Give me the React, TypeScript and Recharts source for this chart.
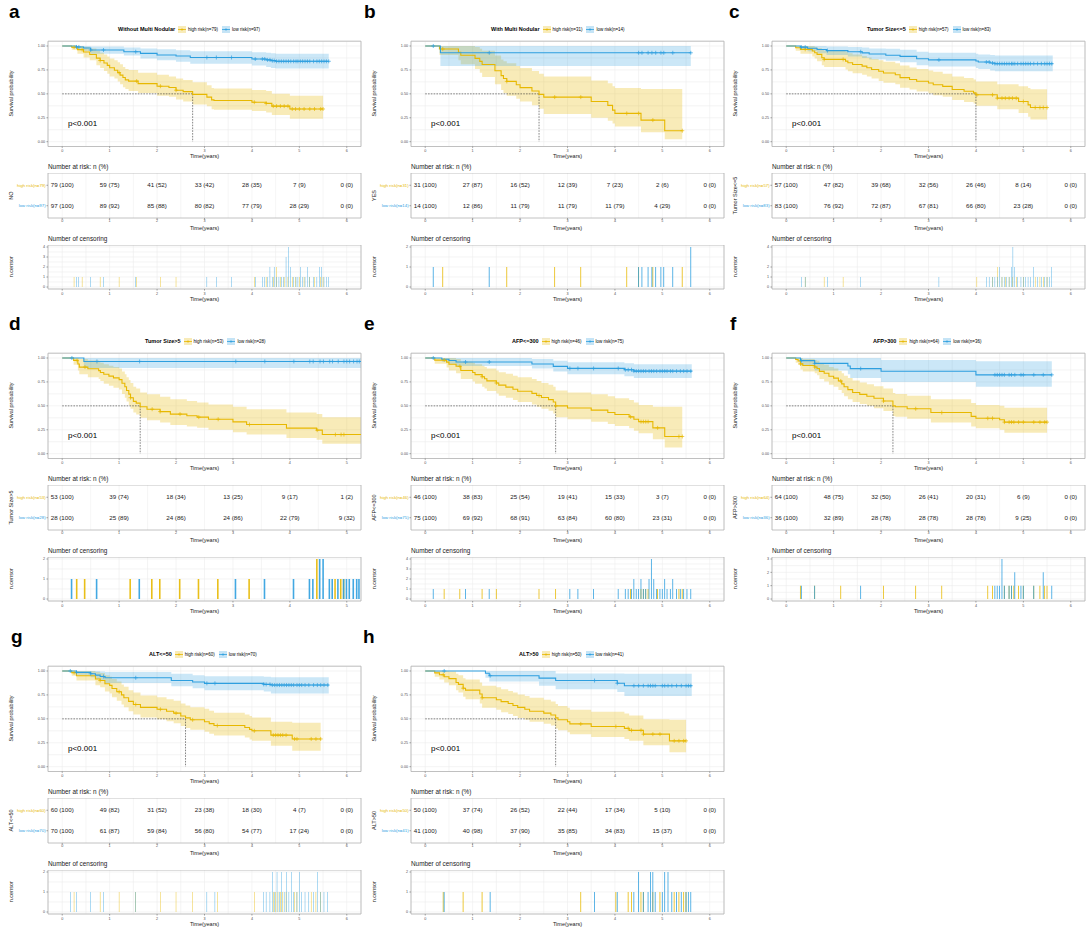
import React from "react";
import {
  Area,
  Bar,
  CartesianGrid,
  ComposedChart,
  Line,
  ReferenceArea,
  ReferenceLine,
  Scatter,
  XAxis,
  YAxis,
} from "recharts";

const HIGH = "#E7B800";
const LOW = "#2E9FDF";
const FONT = '"Liberation Sans", Arial, sans-serif';

// [time, survival, lower CI, upper CI]
type Pt = [number, number, number, number];
// [time, number censored]
type Cens = [number, number];

const timeMajors6 = [0, 1, 2, 3, 4, 5, 6];
const timeMajors5 = [0, 1, 2, 3, 4, 5];
const survMajors = [0, 0.25, 0.5, 0.75, 1];
const medians = [2.75, 2.4, 4.0, 1.37, 2.75, 2.25, 2.6, 2.75];

// ---- a: Without Multi Nodular
const aHigh: Pt[] = [
  [0, 1, 1, 1], [0.2, 0.987, 0.96, 1], [0.32, 0.962, 0.92, 1], [0.45, 0.937, 0.88, 0.99],
  [0.58, 0.911, 0.85, 0.975], [0.72, 0.873, 0.8, 0.95], [0.8, 0.848, 0.77, 0.93], [0.88, 0.823, 0.74, 0.91],
  [0.95, 0.797, 0.71, 0.89], [1.0, 0.772, 0.68, 0.87], [1.1, 0.747, 0.66, 0.85], [1.17, 0.722, 0.63, 0.83],
  [1.22, 0.696, 0.6, 0.81], [1.28, 0.671, 0.57, 0.78], [1.33, 0.646, 0.55, 0.76], [1.4, 0.633, 0.53, 0.75],
  [1.6, 0.607, 0.51, 0.72], [2.0, 0.58, 0.48, 0.7], [2.25, 0.566, 0.47, 0.68], [2.4, 0.538, 0.44, 0.66],
  [2.55, 0.523, 0.42, 0.645], [2.75, 0.494, 0.39, 0.62], [3.05, 0.466, 0.37, 0.59], [3.15, 0.437, 0.34, 0.56],
  [3.2, 0.43, 0.335, 0.555], [4.0, 0.413, 0.32, 0.54], [4.3, 0.4, 0.305, 0.53], [4.42, 0.372, 0.28, 0.5],
  [4.8, 0.342, 0.24, 0.48], [5.5, 0.342, 0.24, 0.48],
];
const aLow: Pt[] = [
  [0, 1, 1, 1], [0.3, 0.99, 0.97, 1], [0.45, 0.979, 0.95, 1], [0.6, 0.958, 0.92, 0.995],
  [1.3, 0.94, 0.9, 0.985], [1.65, 0.923, 0.87, 0.975], [2.0, 0.906, 0.85, 0.965], [2.4, 0.895, 0.835, 0.955],
  [2.7, 0.88, 0.815, 0.945], [4.0, 0.864, 0.795, 0.935], [4.3, 0.855, 0.78, 0.93], [4.4, 0.847, 0.77, 0.925],
  [4.5, 0.84, 0.765, 0.92], [5.62, 0.84, 0.765, 0.92],
];
const aHighCens: Cens[] = [
  [0.25, 1], [0.42, 1], [0.8, 1], [1.2, 1], [1.57, 1], [2.07, 1], [2.4, 1], [4.05, 1], [4.3, 1], [4.45, 1],
  [4.52, 2], [4.6, 1], [4.68, 1], [4.76, 1], [4.85, 1], [4.92, 1], [5.0, 1], [5.1, 1], [5.22, 1], [5.32, 1],
  [5.45, 1], [5.5, 1],
];
const aLowCens: Cens[] = [
  [0.3, 1], [0.35, 1], [0.6, 1], [0.87, 1], [1.55, 1], [3.05, 1], [3.25, 1], [3.57, 1], [4.07, 1], [4.22, 1],
  [4.27, 1], [4.33, 1], [4.38, 2], [4.43, 1], [4.47, 2], [4.52, 1], [4.57, 1], [4.62, 1], [4.67, 1], [4.72, 3],
  [4.77, 4], [4.82, 2], [4.88, 1], [4.93, 1], [4.97, 1], [5.02, 2], [5.07, 1], [5.12, 1], [5.17, 2], [5.22, 1],
  [5.3, 1], [5.37, 1], [5.42, 2], [5.47, 2], [5.52, 1], [5.57, 1], [5.62, 1],
];
const aRiskHigh = [[79, 100], [59, 75], [41, 52], [33, 42], [28, 35], [7, 9], [0, 0]];
const aRiskLow = [[97, 100], [89, 92], [85, 88], [80, 82], [77, 79], [28, 29], [0, 0]];

// ---- b: With Multi Nodular
const bHigh: Pt[] = [
  [0, 1, 1, 1], [0.3, 0.968, 0.905, 1], [0.7, 0.935, 0.85, 1], [0.75, 0.903, 0.81, 1],
  [1.05, 0.871, 0.76, 0.99], [1.15, 0.839, 0.72, 0.97], [1.2, 0.806, 0.675, 0.95], [1.47, 0.742, 0.6, 0.9],
  [1.6, 0.69, 0.54, 0.86], [1.65, 0.66, 0.51, 0.84], [1.72, 0.63, 0.48, 0.82], [1.92, 0.595, 0.45, 0.79],
  [2.0, 0.565, 0.42, 0.77], [2.25, 0.53, 0.38, 0.74], [2.4, 0.495, 0.345, 0.71], [2.5, 0.466, 0.29, 0.68],
  [3.5, 0.42, 0.25, 0.64], [3.85, 0.38, 0.22, 0.61], [3.95, 0.33, 0.19, 0.58], [4.0, 0.296, 0.16, 0.56],
  [4.55, 0.226, 0.1, 0.55], [5.05, 0.115, 0.025, 0.55], [5.42, 0.115, 0.025, 0.55],
];
const bLow: Pt[] = [[0, 1, 1, 1], [0.32, 0.929, 0.79, 1], [5.6, 0.929, 0.79, 1]];
const bHighCens: Cens[] = [[0.37, 1], [1.72, 1], [2.73, 1], [3.28, 1], [4.25, 1], [4.5, 1], [4.8, 1], [5.42, 1]];
const bLowCens: Cens[] = [
  [0.17, 1], [1.35, 1], [4.5, 1], [4.57, 1], [4.7, 1], [4.78, 1], [4.86, 1], [4.97, 1], [5.03, 1], [5.22, 1],
  [5.6, 2],
];
const bRiskHigh = [[31, 100], [27, 87], [16, 52], [12, 39], [7, 23], [2, 6], [0, 0]];
const bRiskLow = [[14, 100], [12, 86], [11, 79], [11, 79], [11, 79], [4, 29], [0, 0]];

// ---- c: Tumor Size<=5
const cHigh: Pt[] = [
  [0, 1, 1, 1], [0.2, 0.982, 0.95, 1], [0.3, 0.965, 0.92, 1], [0.55, 0.947, 0.89, 1], [0.6, 0.93, 0.87, 0.99],
  [0.65, 0.912, 0.84, 0.98], [0.75, 0.877, 0.8, 0.96], [0.8, 0.86, 0.78, 0.95], [1.25, 0.842, 0.755, 0.94],
  [1.3, 0.825, 0.735, 0.925], [1.4, 0.807, 0.715, 0.91], [1.6, 0.79, 0.7, 0.895], [1.7, 0.772, 0.68, 0.88],
  [1.8, 0.754, 0.66, 0.865], [1.95, 0.736, 0.635, 0.85], [2.05, 0.718, 0.615, 0.835], [2.3, 0.7, 0.6, 0.82],
  [2.4, 0.67, 0.565, 0.795], [2.6, 0.65, 0.545, 0.775], [2.75, 0.632, 0.525, 0.76], [3.0, 0.613, 0.505, 0.745],
  [3.1, 0.595, 0.485, 0.73], [3.3, 0.578, 0.47, 0.71], [3.5, 0.545, 0.435, 0.68], [3.75, 0.527, 0.415, 0.665],
  [3.95, 0.51, 0.4, 0.65], [4.0, 0.49, 0.375, 0.63], [4.45, 0.455, 0.34, 0.6], [4.9, 0.42, 0.3, 0.58],
  [5.1, 0.385, 0.26, 0.56], [5.15, 0.357, 0.233, 0.547], [5.5, 0.357, 0.233, 0.547],
];
const cLow: Pt[] = [
  [0, 1, 1, 1], [0.3, 0.988, 0.965, 1], [0.45, 0.976, 0.945, 1], [0.65, 0.964, 0.925, 1],
  [0.85, 0.952, 0.905, 0.995], [1.3, 0.94, 0.89, 0.99], [1.6, 0.928, 0.875, 0.985], [1.75, 0.916, 0.86, 0.975],
  [2.1, 0.904, 0.845, 0.97], [2.4, 0.892, 0.83, 0.96], [2.75, 0.867, 0.8, 0.94], [3.0, 0.855, 0.785, 0.93],
  [4.0, 0.843, 0.77, 0.92], [4.05, 0.832, 0.76, 0.91], [4.3, 0.822, 0.745, 0.905], [4.4, 0.815, 0.735, 0.9],
  [5.62, 0.815, 0.735, 0.9],
];
const cHighCens: Cens[] = [
  [0.4, 1], [0.8, 1], [1.2, 1], [4.02, 1], [4.35, 1], [4.45, 2], [4.55, 1], [4.62, 1], [4.7, 1], [4.77, 1],
  [4.85, 1], [5.0, 1], [5.25, 1], [5.35, 1], [5.42, 1], [5.5, 1],
];
const cLowCens: Cens[] = [
  [0.32, 1], [0.4, 1], [0.87, 1], [1.57, 1], [3.22, 1], [4.22, 1], [4.28, 1], [4.35, 1], [4.4, 1], [4.45, 1],
  [4.5, 2], [4.55, 1], [4.6, 1], [4.65, 1], [4.7, 1], [4.75, 2], [4.78, 4], [4.82, 2], [4.88, 1], [4.95, 1],
  [5.0, 1], [5.05, 1], [5.1, 1], [5.15, 1], [5.22, 2], [5.3, 1], [5.38, 1], [5.45, 1], [5.5, 1], [5.55, 1],
  [5.6, 2],
];
const cRiskHigh = [[57, 100], [47, 82], [39, 68], [32, 56], [26, 46], [8, 14], [0, 0]];
const cRiskLow = [[83, 100], [76, 92], [72, 87], [67, 81], [66, 80], [23, 28], [0, 0]];

// ---- d: Tumor Size>5
const dHigh: Pt[] = [
  [0, 1, 1, 1], [0.2, 0.975, 0.93, 1], [0.275, 0.937, 0.87, 1], [0.3, 0.905, 0.83, 0.99],
  [0.45, 0.887, 0.8, 0.975], [0.64, 0.868, 0.78, 0.96], [0.67, 0.849, 0.76, 0.95], [0.73, 0.83, 0.73, 0.935],
  [0.82, 0.811, 0.71, 0.92], [0.9, 0.792, 0.69, 0.905], [1.0, 0.774, 0.67, 0.89], [1.05, 0.736, 0.625, 0.86],
  [1.1, 0.7, 0.585, 0.83], [1.13, 0.66, 0.545, 0.8], [1.17, 0.623, 0.505, 0.77], [1.2, 0.585, 0.47, 0.74],
  [1.25, 0.547, 0.43, 0.7], [1.3, 0.528, 0.41, 0.68], [1.37, 0.49, 0.375, 0.64], [1.49, 0.465, 0.35, 0.62],
  [1.72, 0.44, 0.325, 0.595], [1.9, 0.414, 0.3, 0.57], [2.19, 0.396, 0.285, 0.55], [2.37, 0.382, 0.27, 0.535],
  [2.57, 0.36, 0.25, 0.515], [3.0, 0.333, 0.225, 0.49], [3.24, 0.305, 0.2, 0.465], [3.94, 0.267, 0.165, 0.43],
  [4.47, 0.246, 0.145, 0.415], [4.57, 0.2, 0.105, 0.38], [5.25, 0.2, 0.105, 0.38],
];
const dLow: Pt[] = [[0, 1, 1, 1], [0.38, 0.964, 0.895, 1], [5.25, 0.964, 0.895, 1]];
const dHighCens: Cens[] = [
  [0.26, 1], [0.4, 1], [1.2, 1], [1.58, 1], [1.72, 1], [2.07, 1], [2.4, 1], [2.74, 1], [3.29, 1], [4.48, 2],
  [4.8, 1], [4.9, 1], [4.95, 1],
];
const dLowCens: Cens[] = [
  [0.17, 1], [0.61, 1], [1.36, 1], [3.05, 1], [3.56, 1], [4.07, 1], [4.35, 1], [4.41, 1], [4.53, 2], [4.59, 2],
  [4.7, 1], [4.75, 1], [4.85, 1], [4.95, 1], [5.0, 1], [5.05, 1], [5.12, 1], [5.18, 1], [5.22, 1],
];
const dRiskHigh = [[53, 100], [39, 74], [18, 34], [13, 25], [9, 17], [1, 2]];
const dRiskLow = [[28, 100], [25, 89], [24, 86], [24, 86], [22, 79], [9, 32]];

// ---- e: AFP<=300
const eHigh: Pt[] = [
  [0, 1, 1, 1], [0.2, 0.978, 0.94, 1], [0.45, 0.957, 0.9, 1], [0.5, 0.935, 0.87, 1], [0.65, 0.913, 0.84, 0.99],
  [0.75, 0.87, 0.78, 0.96], [1.0, 0.848, 0.755, 0.95], [1.05, 0.826, 0.73, 0.935], [1.2, 0.804, 0.7, 0.92],
  [1.25, 0.783, 0.68, 0.905], [1.3, 0.761, 0.655, 0.89], [1.5, 0.739, 0.63, 0.87], [1.55, 0.717, 0.605, 0.85],
  [1.7, 0.696, 0.585, 0.835], [1.85, 0.674, 0.56, 0.815], [1.95, 0.652, 0.54, 0.8], [2.25, 0.63, 0.515, 0.78],
  [2.35, 0.608, 0.49, 0.76], [2.45, 0.587, 0.47, 0.74], [2.6, 0.565, 0.45, 0.72], [2.7, 0.54, 0.42, 0.7],
  [2.75, 0.5, 0.38, 0.66], [3.0, 0.478, 0.36, 0.64], [3.5, 0.455, 0.335, 0.62], [3.85, 0.43, 0.31, 0.6],
  [4.0, 0.41, 0.29, 0.58], [4.3, 0.385, 0.265, 0.56], [4.4, 0.36, 0.24, 0.535], [4.5, 0.335, 0.215, 0.51],
  [4.8, 0.27, 0.15, 0.49], [5.05, 0.18, 0.065, 0.49], [5.42, 0.18, 0.065, 0.49],
];
const eLow: Pt[] = [
  [0, 1, 1, 1], [0.35, 0.987, 0.96, 1], [0.5, 0.973, 0.94, 1], [0.65, 0.958, 0.915, 1],
  [2.25, 0.937, 0.89, 0.99], [2.7, 0.912, 0.86, 0.97], [3.0, 0.891, 0.83, 0.955], [4.2, 0.877, 0.81, 0.945],
  [4.4, 0.863, 0.79, 0.935], [5.62, 0.863, 0.79, 0.935],
];
const eHighCens: Cens[] = [
  [0.4, 1], [0.73, 1], [1.2, 1], [1.5, 1], [2.4, 1], [2.75, 1], [4.33, 1], [4.55, 1], [4.6, 1], [4.65, 1],
  [4.7, 1], [4.9, 1], [5.35, 1], [5.42, 1],
];
const eLowCens: Cens[] = [
  [0.17, 1], [0.85, 1], [1.35, 1], [3.05, 1], [3.22, 1], [3.55, 1], [4.07, 1], [4.22, 1], [4.28, 1], [4.35, 1],
  [4.4, 2], [4.45, 1], [4.5, 1], [4.55, 2], [4.6, 1], [4.65, 1], [4.72, 2], [4.77, 4], [4.82, 2], [4.88, 1],
  [4.95, 1], [5.0, 1], [5.05, 2], [5.1, 1], [5.17, 1], [5.22, 2], [5.3, 1], [5.38, 1], [5.45, 1], [5.52, 1],
  [5.6, 1],
];
const eRiskHigh = [[46, 100], [38, 83], [25, 54], [19, 41], [15, 33], [3, 7], [0, 0]];
const eRiskLow = [[75, 100], [69, 92], [68, 91], [63, 84], [60, 80], [23, 31], [0, 0]];

// ---- f: AFP>300
const fHigh: Pt[] = [
  [0, 1, 1, 1], [0.2, 0.984, 0.95, 1], [0.25, 0.969, 0.93, 1], [0.3, 0.938, 0.88, 1], [0.35, 0.922, 0.86, 0.99],
  [0.6, 0.906, 0.84, 0.98], [0.65, 0.89, 0.82, 0.97], [0.7, 0.86, 0.78, 0.945], [0.8, 0.84, 0.755, 0.93],
  [0.9, 0.81, 0.72, 0.905], [1.0, 0.79, 0.7, 0.89], [1.1, 0.76, 0.665, 0.865], [1.17, 0.73, 0.635, 0.84],
  [1.22, 0.7, 0.6, 0.815], [1.3, 0.67, 0.57, 0.79], [1.4, 0.64, 0.54, 0.765], [1.55, 0.62, 0.52, 0.745],
  [1.7, 0.6, 0.5, 0.725], [1.85, 0.58, 0.475, 0.705], [2.05, 0.55, 0.445, 0.68], [2.25, 0.5, 0.395, 0.635],
  [2.3, 0.49, 0.385, 0.625], [2.55, 0.47, 0.365, 0.605], [3.05, 0.43, 0.325, 0.57], [3.9, 0.39, 0.285, 0.53],
  [4.0, 0.37, 0.265, 0.51], [4.5, 0.355, 0.25, 0.5], [4.6, 0.33, 0.22, 0.48], [5.5, 0.33, 0.22, 0.48],
];
const fLow: Pt[] = [
  [0, 1, 1, 1], [0.3, 0.972, 0.92, 1], [0.6, 0.944, 0.87, 1], [1.3, 0.917, 0.83, 1], [1.35, 0.889, 0.79, 1],
  [2.0, 0.861, 0.75, 0.98], [4.0, 0.824, 0.7, 0.965], [5.6, 0.824, 0.7, 0.965],
];
const fHighCens: Cens[] = [
  [0.3, 1], [0.6, 1], [1.15, 1], [2.05, 1], [2.73, 1], [3.28, 1], [4.25, 1], [4.35, 1], [4.6, 1], [4.7, 1],
  [4.75, 1], [4.8, 1], [4.9, 1], [5.0, 1], [5.22, 1], [5.35, 1], [5.45, 1], [5.5, 1],
];
const fLowCens: Cens[] = [
  [0.32, 1], [0.6, 1], [1.57, 1], [4.4, 1], [4.45, 1], [4.5, 1], [4.55, 3], [4.6, 1], [4.7, 1], [4.75, 1],
  [4.82, 2], [4.95, 1], [5.0, 1], [5.22, 1], [5.42, 2], [5.6, 1],
];
const fRiskHigh = [[64, 100], [48, 75], [32, 50], [26, 41], [20, 31], [6, 9], [0, 0]];
const fRiskLow = [[36, 100], [32, 89], [28, 78], [28, 78], [28, 78], [9, 25], [0, 0]];

// ---- g: ALT<=50
const gHigh: Pt[] = [
  [0, 1, 1, 1], [0.2, 0.983, 0.95, 1], [0.3, 0.95, 0.9, 1], [0.7, 0.917, 0.85, 0.99], [0.8, 0.9, 0.83, 0.98],
  [0.9, 0.867, 0.785, 0.955], [1.0, 0.85, 0.765, 0.94], [1.05, 0.817, 0.725, 0.915], [1.15, 0.783, 0.69, 0.89],
  [1.25, 0.75, 0.65, 0.86], [1.3, 0.72, 0.62, 0.835], [1.4, 0.683, 0.58, 0.8], [1.5, 0.65, 0.545, 0.775],
  [1.65, 0.62, 0.515, 0.745], [2.0, 0.6, 0.495, 0.725], [2.2, 0.58, 0.475, 0.705], [2.35, 0.56, 0.455, 0.69],
  [2.5, 0.53, 0.425, 0.66], [2.6, 0.51, 0.405, 0.64], [2.7, 0.49, 0.385, 0.62], [3.0, 0.47, 0.365, 0.605],
  [3.1, 0.45, 0.345, 0.585], [3.2, 0.43, 0.325, 0.565], [3.85, 0.41, 0.305, 0.545], [3.95, 0.39, 0.285, 0.53],
  [4.0, 0.375, 0.27, 0.515], [4.4, 0.33, 0.22, 0.47], [4.85, 0.29, 0.168, 0.46], [5.45, 0.29, 0.168, 0.46],
];
const gLow: Pt[] = [
  [0, 1, 1, 1], [0.3, 0.986, 0.96, 1], [0.6, 0.971, 0.935, 1], [0.7, 0.957, 0.915, 1],
  [0.8, 0.943, 0.895, 0.995], [0.9, 0.929, 0.875, 0.99], [2.3, 0.9, 0.84, 0.97], [2.75, 0.885, 0.82, 0.955],
  [3.0, 0.871, 0.8, 0.945], [4.25, 0.86, 0.785, 0.94], [4.4, 0.853, 0.765, 0.935], [5.62, 0.853, 0.765, 0.935],
];
const gHighCens: Cens[] = [
  [0.25, 1], [0.8, 1], [1.2, 1], [1.55, 1], [2.07, 1], [2.4, 1], [2.75, 1], [3.27, 1], [4.05, 1], [4.45, 1],
  [4.5, 1], [4.55, 1], [4.6, 1], [4.65, 1], [4.72, 1], [4.9, 1], [4.95, 1], [5.25, 1], [5.35, 1], [5.45, 1],
];
const gLowCens: Cens[] = [
  [0.17, 1], [0.3, 1], [0.6, 1], [0.87, 1], [1.55, 1], [3.05, 1], [3.22, 1], [4.25, 1], [4.3, 1], [4.38, 1],
  [4.43, 2], [4.48, 1], [4.53, 2], [4.58, 1], [4.63, 2], [4.68, 1], [4.73, 2], [4.78, 1], [4.83, 2], [4.88, 1],
  [4.95, 1], [5.0, 2], [5.05, 1], [5.12, 1], [5.2, 1], [5.3, 1], [5.38, 2], [5.45, 1], [5.52, 1], [5.6, 1],
];
const gRiskHigh = [[60, 100], [49, 82], [31, 52], [23, 38], [18, 30], [4, 7], [0, 0]];
const gRiskLow = [[70, 100], [61, 87], [59, 84], [56, 80], [54, 77], [17, 24], [0, 0]];

// ---- h: ALT>50
const hHigh: Pt[] = [
  [0, 1, 1, 1], [0.2, 0.98, 0.94, 1], [0.3, 0.96, 0.91, 1], [0.4, 0.94, 0.88, 1], [0.5, 0.92, 0.85, 0.995],
  [0.65, 0.88, 0.8, 0.97], [0.7, 0.86, 0.775, 0.955], [0.8, 0.82, 0.73, 0.925], [0.85, 0.8, 0.705, 0.91],
  [1.15, 0.76, 0.66, 0.88], [1.2, 0.72, 0.615, 0.845], [1.5, 0.7, 0.595, 0.83], [1.6, 0.68, 0.57, 0.81],
  [1.75, 0.66, 0.55, 0.79], [1.85, 0.64, 0.53, 0.775], [1.95, 0.62, 0.51, 0.755], [2.1, 0.6, 0.49, 0.74],
  [2.2, 0.58, 0.47, 0.72], [2.5, 0.56, 0.45, 0.7], [2.65, 0.54, 0.43, 0.68], [2.75, 0.51, 0.4, 0.655],
  [2.8, 0.49, 0.38, 0.635], [3.0, 0.47, 0.36, 0.615], [3.05, 0.447, 0.34, 0.595], [3.5, 0.42, 0.31, 0.575],
  [4.2, 0.4, 0.29, 0.555], [4.3, 0.38, 0.27, 0.535], [4.6, 0.34, 0.225, 0.495], [5.15, 0.27, 0.15, 0.49],
  [5.5, 0.27, 0.15, 0.49],
];
const hLow: Pt[] = [
  [0, 1, 1, 1], [1.27, 0.976, 0.93, 1], [1.35, 0.951, 0.89, 1], [2.4, 0.925, 0.845, 1],
  [2.75, 0.9, 0.81, 0.975], [4.05, 0.872, 0.78, 0.975], [4.2, 0.846, 0.74, 0.97], [5.62, 0.846, 0.74, 0.97],
];
const hHighCens: Cens[] = [
  [0.38, 1], [0.8, 1], [1.2, 1], [3.28, 1], [4.02, 1], [4.28, 1], [4.35, 1], [4.55, 1], [4.6, 1], [4.8, 1],
  [4.95, 1], [5.25, 1], [5.35, 1], [5.45, 1], [5.5, 1],
];
const hLowCens: Cens[] = [
  [0.4, 1], [1.37, 1], [3.57, 1], [4.05, 1], [4.4, 1], [4.5, 2], [4.6, 1], [4.7, 1], [4.75, 2], [4.8, 2],
  [4.85, 1], [5.0, 1], [5.05, 2], [5.12, 2], [5.2, 1], [5.3, 1], [5.4, 1], [5.5, 1], [5.55, 1], [5.6, 1],
];
const hRiskHigh = [[50, 100], [37, 74], [26, 52], [22, 44], [17, 34], [5, 10], [0, 0]];
const hRiskLow = [[41, 100], [40, 98], [37, 90], [35, 85], [34, 83], [15, 37], [0, 0]];

interface PanelCfg {
  letter: string;
  left: number;
  top: number;
  letterX: number;
  title: string;
  legendLeft: number;
  strata: string;
  hiN: number;
  loN: number;
  hi: Pt[];
  lo: Pt[];
  hiCens: Cens[];
  loCens: Cens[];
  median: number;
  riskHi: number[][];
  riskLo: number[][];
  xMax: number;
  censTicks: number[];
}

const panels: PanelCfg[] = [
  { letter: "a", left: 0, top: 0, letterX: 9, title: "Without Multi Nodular", legendLeft: 118, strata: "NO", hiN: 79, loN: 97, hi: aHigh, lo: aLow, hiCens: aHighCens, loCens: aLowCens, median: medians[0], riskHi: aRiskHigh, riskLo: aRiskLow, xMax: 6, censTicks: [0, 1, 2, 3, 4] },
  { letter: "b", left: 363, top: 0, letterX: 1, title: "With Multi Nodular", legendLeft: 128, strata: "YES", hiN: 31, loN: 14, hi: bHigh, lo: bLow, hiCens: bHighCens, loCens: bLowCens, median: medians[1], riskHi: bRiskHigh, riskLo: bRiskLow, xMax: 6, censTicks: [0, 1, 2] },
  { letter: "c", left: 724, top: 0, letterX: 5, title: "Tumor Size<=5", legendLeft: 143, strata: "Tumor Size<=5", hiN: 57, loN: 83, hi: cHigh, lo: cLow, hiCens: cHighCens, loCens: cLowCens, median: medians[2], riskHi: cRiskHigh, riskLo: cRiskLow, xMax: 6, censTicks: [0, 1, 2, 4] },
  { letter: "d", left: 0, top: 312, letterX: 9, title: "Tumor Size>5", legendLeft: 145, strata: "Tumor Size>5", hiN: 53, loN: 28, hi: dHigh, lo: dLow, hiCens: dHighCens, loCens: dLowCens, median: medians[3], riskHi: dRiskHigh, riskLo: dRiskLow, xMax: 5, censTicks: [0, 1, 2] },
  { letter: "e", left: 363, top: 312, letterX: 1, title: "AFP<=300", legendLeft: 149, strata: "AFP<=300", hiN: 46, loN: 75, hi: eHigh, lo: eLow, hiCens: eHighCens, loCens: eLowCens, median: medians[4], riskHi: eRiskHigh, riskLo: eRiskLow, xMax: 6, censTicks: [0, 1, 2, 3, 4] },
  { letter: "f", left: 724, top: 312, letterX: 6, title: "AFP>300", legendLeft: 149, strata: "AFP>300", hiN: 64, loN: 36, hi: fHigh, lo: fLow, hiCens: fHighCens, loCens: fLowCens, median: medians[5], riskHi: fRiskHigh, riskLo: fRiskLow, xMax: 6, censTicks: [0, 1, 2, 3] },
  { letter: "g", left: 0, top: 625, letterX: 11, title: "ALT<=50", legendLeft: 149, strata: "ALT<=50", hiN: 60, loN: 70, hi: gHigh, lo: gLow, hiCens: gHighCens, loCens: gLowCens, median: medians[6], riskHi: gRiskHigh, riskLo: gRiskLow, xMax: 6, censTicks: [0, 1, 2] },
  { letter: "h", left: 363, top: 625, letterX: 0, title: "ALT>50", legendLeft: 156, strata: "ALT>50", hiN: 50, loN: 41, hi: hHigh, lo: hLow, hiCens: hHighCens, loCens: hLowCens, median: medians[7], riskHi: hRiskHigh, riskLo: hRiskLow, xMax: 6, censTicks: [0, 1, 2] },
];

const withMinors = (majors: number[]) => {
  const out = [...majors];
  for (let i = 0; i < majors.length - 1; i++) out.push((majors[i] + majors[i + 1]) / 2);
  return out.sort((a, b) => a - b);
};
const toRows = (pts: Pt[]) => pts.map(([t, s, lo, hi]) => ({ t, s, band: [lo, hi] }));
const survAt = (pts: Pt[], t: number) => {
  let s = 1;
  for (const p of pts) if (p[0] <= t) s = p[1];
  return s;
};

const makeXTick = (majors: number[], dy: number) => (props: any) => {
  const { x, y, payload } = props;
  if (!majors.includes(payload.value)) return <g />;
  return (
    <g>
      <line x1={x} y1={y} x2={x} y2={y + 1.6} stroke="#333" strokeWidth={0.4} />
      <text x={x} y={y + dy} textAnchor="middle" fontSize={3.7} fill="#4d4d4d" fontFamily={FONT}>
        {payload.value}
      </text>
    </g>
  );
};

const makeYTick = (majors: number[], fmt: (v: number) => string) => (props: any) => {
  const { x, y, payload } = props;
  if (!majors.includes(payload.value)) return <g />;
  return (
    <g>
      <line x1={x - 1.6} y1={y} x2={x} y2={y} stroke="#333" strokeWidth={0.4} />
      <text x={x - 3} y={y + 1.3} textAnchor="end" fontSize={3.7} fill="#4d4d4d" fontFamily={FONT}>
        {fmt(payload.value)}
      </text>
    </g>
  );
};

const plus = (color: string) => (props: any) => {
  const { cx, cy } = props;
  return <path d={`M${cx - 2},${cy}h4M${cx},${cy - 2}v4`} stroke={color} strokeWidth={0.7} fill="none" />;
};

function Swatch({ color }: { color: string }) {
  return (
    <svg width={8} height={7} style={{ display: "block" }}>
      <rect x={0} y={0} width={8} height={7} fill={color} fillOpacity={0.28} />
      <line x1={0} y1={3.5} x2={8} y2={3.5} stroke={color} strokeWidth={0.8} />
      <path d="M2.6,3.5h2.8M4,2.1v2.8" stroke={color} strokeWidth={0.6} />
    </svg>
  );
}

const W = 362;

function Panel({ p }: { p: PanelCfg }) {
  const majors = p.xMax === 6 ? timeMajors6 : timeMajors5;
  const pad = p.xMax * 0.05;
  const xDomain = [-pad, p.xMax + pad];
  const xTicks = withMinors(majors);
  const hiRows = toRows(p.hi);
  const loRows = toRows(p.lo);
  const hiMarks = p.hiCens.map(([t]) => ({ t, s: survAt(p.hi, t) }));
  const loMarks = p.loCens.map(([t]) => ({ t, s: survAt(p.lo, t) }));
  const riskRows = [
    ...p.riskHi.map(([n, pct], i) => ({ t: majors[i], y: 2, txt: `${n} (${pct})` })),
    ...p.riskLo.map(([n, pct], i) => ({ t: majors[i], y: 1, txt: `${n} (${pct})` })),
  ];
  const censMax = p.censTicks[p.censTicks.length - 1];
  const censRows = [
    ...p.hiCens.map(([t, n]) => ({ t, hi: n })),
    ...p.loCens.map(([t, n]) => ({ t, lo: n })),
  ].sort((a, b) => a.t - b.t);

  const xAxisCommon = {
    type: "number" as const,
    dataKey: "t",
    domain: xDomain,
    ticks: xTicks,
    allowDataOverflow: true,
    interval: 0 as const,
    tickSize: 0,
    tickMargin: 0,
    axisLine: false,
    tickLine: false,
  };
  const grid = <CartesianGrid stroke="#ececec" strokeWidth={0.6} strokeDasharray="" />;
  const labelStyle = { fontSize: 5.5, fill: "#1a1a1a", fontFamily: FONT };
  const midX = 48 + (W - 1 - 48) / 2;

  return (
    <div style={{ position: "absolute", left: p.left, top: p.top, width: W, height: 312 }}>
      {/* legend */}
      <div
        style={{
          position: "absolute",
          left: p.legendLeft,
          top: 25.5,
          height: 7,
          display: "flex",
          alignItems: "center",
          fontFamily: FONT,
          whiteSpace: "nowrap",
        }}
      >
        <span style={{ fontSize: 5.5, fontWeight: 700, marginRight: 3 }}>{p.title}</span>
        <Swatch color={HIGH} />
        <span style={{ fontSize: 4.5, marginLeft: 2, marginRight: 4 }}>{`high risk(n=${p.hiN})`}</span>
        <Swatch color={LOW} />
        <span style={{ fontSize: 4.5, marginLeft: 2 }}>{`low risk(n=${p.loN})`}</span>
      </div>

      {/* survival curves */}
      <div style={{ position: "absolute", left: 0, top: 0 }}>
        <ComposedChart width={W} height={160} margin={{ top: 41.2, right: 1, bottom: 0, left: 0 }}>
          {grid}
          <XAxis {...xAxisCommon} height={13.5} tick={makeXTick(majors, 5.5)} />
          <YAxis
            type="number"
            domain={[-0.05, 1.05]}
            ticks={withMinors(survMajors)}
            allowDataOverflow
            interval={0}
            width={48}
            tickSize={0}
            tickMargin={0}
            axisLine={false}
            tickLine={false}
            tick={makeYTick(survMajors, (v) => v.toFixed(2))}
          />
          <Area data={hiRows} dataKey="band" type="stepAfter" fill={HIGH} fillOpacity={0.28} stroke="none" isAnimationActive={false} />
          <Area data={loRows} dataKey="band" type="stepAfter" fill={LOW} fillOpacity={0.25} stroke="none" isAnimationActive={false} />
          <ReferenceLine segment={[{ x: 0, y: 0.5 }, { x: p.median, y: 0.5 }]} stroke="#333" strokeWidth={0.6} strokeDasharray="1.6 1.2" />
          <ReferenceLine segment={[{ x: p.median, y: 0.5 }, { x: p.median, y: 0 }]} stroke="#333" strokeWidth={0.6} strokeDasharray="1.6 1.2" />
          <Line data={hiRows} dataKey="s" type="stepAfter" stroke={HIGH} strokeWidth={1.1} dot={false} activeDot={false} isAnimationActive={false} />
          <Line data={loRows} dataKey="s" type="stepAfter" stroke={LOW} strokeWidth={1.1} dot={false} activeDot={false} isAnimationActive={false} />
          <Scatter data={hiMarks} dataKey="s" shape={plus(HIGH)} isAnimationActive={false} />
          <Scatter data={loMarks} dataKey="s" shape={plus(LOW)} isAnimationActive={false} />
          <ReferenceArea x1={xDomain[0]} x2={xDomain[1]} y1={-0.05} y2={1.05} fill="none" stroke="#b3b3b3" strokeWidth={0.8} />
        </ComposedChart>
      </div>

      {/* risk table */}
      <div style={{ position: "absolute", left: 0, top: 173 }}>
        <ComposedChart width={W} height={53} margin={{ top: 0, right: 1, bottom: 0, left: 0 }} data={riskRows}>
          <CartesianGrid stroke="#f0f0f0" strokeWidth={0.6} strokeDasharray="" horizontal={false} />
          <XAxis {...xAxisCommon} height={8} tick={makeXTick(majors, 4.2)} />
          <YAxis
            type="number"
            domain={[0.4, 2.6]}
            ticks={[1, 2]}
            interval={0}
            width={48}
            tickSize={0}
            tickMargin={0}
            axisLine={false}
            tickLine={false}
            tick={(props: any) => {
              const { x, y, payload } = props;
              const isHi = payload.value === 2;
              return (
                <g>
                  <line x1={x - 1.6} y1={y} x2={x} y2={y} stroke="#333" strokeWidth={0.4} />
                  <text x={x - 2.4} y={y + 1.5} textAnchor="end" fontSize={4.3} fill={isHi ? HIGH : LOW} fontFamily={FONT}>
                    {isHi ? `high risk(n=${p.hiN})` : `low risk(n=${p.loN})`}
                  </text>
                </g>
              );
            }}
          />
          <Scatter
            dataKey="y"
            isAnimationActive={false}
            shape={(props: any) => (
              <text x={props.cx} y={props.cy + 2.2} textAnchor="middle" fontSize={6.2} fill="#1a1a1a" fontFamily={FONT}>
                {props.payload.txt}
              </text>
            )}
          />
          <ReferenceArea x1={xDomain[0]} x2={xDomain[1]} y1={0.4} y2={2.6} fill="none" stroke="#b3b3b3" strokeWidth={0.8} />
        </ComposedChart>
      </div>

      {/* censoring counts */}
      <div style={{ position: "absolute", left: 0, top: 244.5 }}>
        <ComposedChart width={W} height={52} margin={{ top: 0, right: 1, bottom: 0, left: 0 }} data={censRows}>
          {grid}
          <XAxis {...xAxisCommon} height={8} tick={makeXTick(majors, 5.8)} />
          <YAxis
            type="number"
            domain={[-0.05 * censMax, 1.05 * censMax]}
            ticks={withMinors(p.censTicks)}
            allowDataOverflow
            interval={0}
            width={48}
            tickSize={0}
            tickMargin={0}
            axisLine={false}
            tickLine={false}
            tick={makeYTick(p.censTicks, (v) => String(v))}
          />
          <Bar dataKey="hi" stackId="c" fill={HIGH} fillOpacity={0.9} barSize={1.6} isAnimationActive={false} />
          <Bar dataKey="lo" stackId="c" fill={LOW} fillOpacity={0.9} barSize={1.6} isAnimationActive={false} />
          <ReferenceArea x1={xDomain[0]} x2={xDomain[1]} y1={-0.05 * censMax} y2={1.05 * censMax} fill="none" stroke="#b3b3b3" strokeWidth={0.8} />
        </ComposedChart>
      </div>

      {/* text overlay */}
      <svg width={W} height={312} style={{ position: "absolute", left: 0, top: 0, pointerEvents: "none" }}>
        <text x={p.letterX} y={18} fontSize={19} fontWeight={700} fontFamily={FONT} fill="#000">
          {p.letter}
        </text>
        <text x={68} y={126} fontSize={8} fontFamily={FONT} fill="#000">
          p&lt;0.001
        </text>
        <text x={midX} y={157.5} textAnchor="middle" {...labelStyle}>Time(years)</text>
        <text x={midX} y={229.5} textAnchor="middle" {...labelStyle}>Time(years)</text>
        <text x={midX} y={301.2} textAnchor="middle" {...labelStyle}>Time(years)</text>
        <text x={48} y={169} fontSize={6.4} fontFamily={FONT} fill="#1a1a1a">Number at risk: n (%)</text>
        <text x={48} y={241.3} fontSize={6.4} fontFamily={FONT} fill="#1a1a1a">Number of censoring</text>
        <text transform="translate(13,93.5) rotate(-90)" textAnchor="middle" {...labelStyle}>Survival probability</text>
        <text transform="translate(13,195.5) rotate(-90)" textAnchor="middle" {...labelStyle}>{p.strata}</text>
        <text transform="translate(13,266.7) rotate(-90)" textAnchor="middle" {...labelStyle}>n.censor</text>
      </svg>
    </div>
  );
}

export default function App() {
  return (
    <div
      style={{
        position: "absolute",
        left: 0,
        top: 0,
        width: 1088,
        height: 929,
        background: "#fff",
        overflow: "hidden",
        fontFamily: FONT,
      }}
    >
      {panels.map((p) => (
        <Panel key={p.letter} p={p} />
      ))}
    </div>
  );
}
